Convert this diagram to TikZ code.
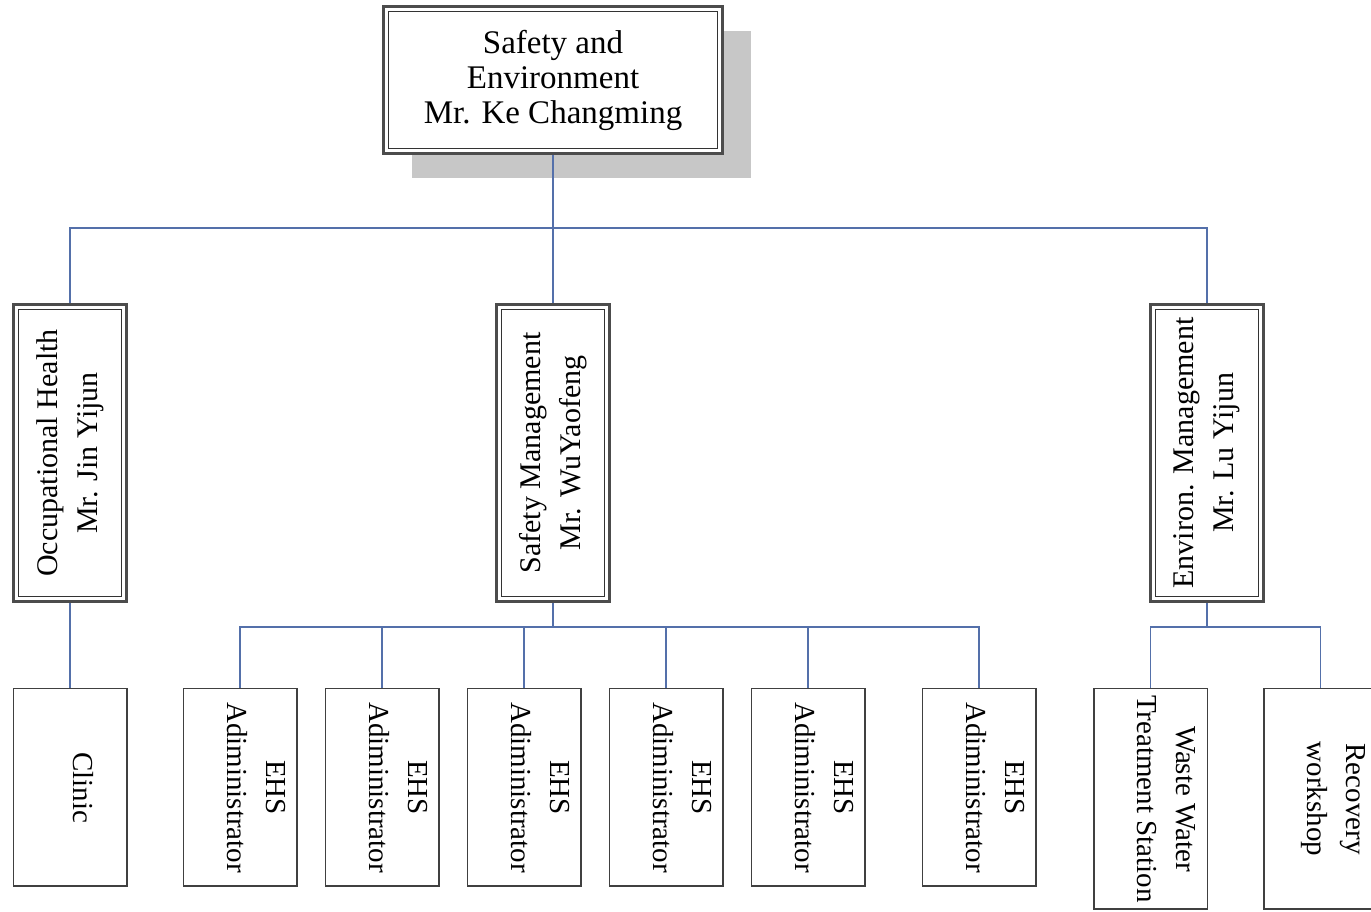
\documentclass[tikz,border=0pt]{standalone}
\usepackage{fontspec}
\setmainfont{Liberation Serif}
\usetikzlibrary{positioning,shadows}
\definecolor{linkblue}{RGB}{84,112,170}

\begin{document}
\begin{tikzpicture}[
  x=1pt,y=1pt,
  node distance=27pt and 27pt,
  twoline/.style={rectangle,draw=black!70,line width=2.6pt,fill=white,
    path picture={\draw[black!80,line width=1.3pt]
      ([shift={(5pt,5pt)}]path picture bounding box.south west) rectangle
      ([shift={(-5pt,-5pt)}]path picture bounding box.north east);}},
  head/.style={twoline,minimum width=339pt,minimum height=147pt,align=center,font=\fontsize{33}{35}\selectfont,
    drop shadow={shadow xshift=28pt,shadow yshift=-25pt,fill=black!22,opacity=1}},
  dept/.style={twoline,minimum width=113pt,minimum height=297pt},
  unit/.style={rectangle,draw=black!75,line width=1.5pt,fill=white,minimum width=113.5pt,minimum height=197.5pt},
  vtxt/.style={rotate=90,align=center,inner sep=0pt,font=\fontsize{30}{40}\selectfont},
  dtxt/.style={rotate=-90,align=center,inner sep=0pt,anchor=north,font=\fontsize{29}{39}\selectfont},
  link/.style={draw=linkblue,line width=1.2pt}
]
\useasboundingbox (0,0) rectangle (1371,912);

% top
\node[head] (top) at (553,832) {Safety and\\Environment\\Mr. Ke Changming};

% departments
\node[dept] (occ) at (70,459) {};
\node[dept] (safe) at (553,459) {};
\node[dept] (env) at (1207,459) {};
\node[vtxt] (occ-t) at (occ) {Occupational Health\\Mr. Jin Yijun};
\node[vtxt] (safe-t) at (safe) {Safety Management\\Mr. WuYaofeng};
\node[vtxt] (env-t) at (env) {Environ. Management\\Mr. Lu Yijun};

% units
\node[unit] (clinic) at (70,124.5) {};
\node[unit] (ehs1) at (240,124.5) {};
\node[unit, right=of ehs1] (ehs2) {};
\node[unit, right=of ehs2] (ehs3) {};
\node[unit, right=of ehs3] (ehs4) {};
\node[unit, right=of ehs4] (ehs5) {};
\node[unit] (ehs6) at (979,124.5) {};
\node[unit, minimum height=220.5pt] (waste) at (1150.5,113) {};
\node[unit, minimum height=220.5pt] (recov) at (1320.5,113) {};

\node[dtxt, anchor=center] (clinic-t) at ([xshift=13pt]clinic.center) {Clinic};
\foreach \n in {ehs1,ehs2,ehs3,ehs4,ehs5,ehs6}
  \node[dtxt] (\n-t) at ([xshift=-12pt]\n.east) {EHS\\Adiministrator};
\node[dtxt] (waste-t) at ([xshift=-12pt]waste.east) {Waste Water\\Treatment Station};
\node[dtxt] (recov-t) at ([xshift=-12pt]recov.east) {Recovery\\workshop};

% connectors
\coordinate (busa) at (553,684);
\coordinate (busb) at (553,285);
\coordinate (busc) at (1207,285);

\draw[link] (top.south) -- (busa);
\draw[link] (busa) -| (occ.north);
\draw[link] (busa) -- (safe.north);
\draw[link] (busa) -| (env.north);

\draw[link] (occ.south) -- (clinic.north);
\draw[link] (safe.south) -- (busb);
\foreach \n in {ehs1,ehs2,ehs3,ehs4,ehs5,ehs6}
  \draw[link] (busb) -| (\n.north);
\draw[link] (env.south) -- (busc);
\draw[link] (busc) -| (waste.north);
\draw[link] (busc) -| (recov.north);
\end{tikzpicture}
\end{document}
